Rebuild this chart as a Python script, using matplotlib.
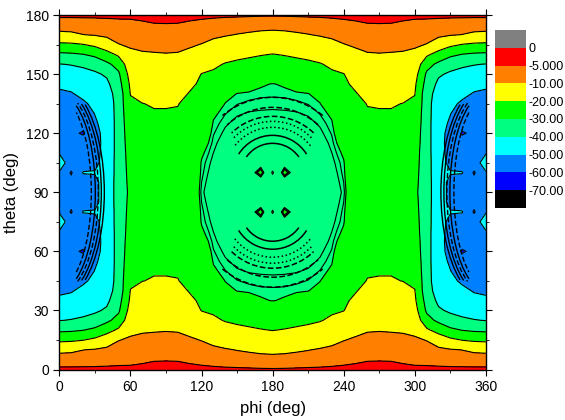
import numpy as np
import matplotlib
matplotlib.use('Agg')
import matplotlib.pyplot as plt
from matplotlib.patches import Arc

plt.rcParams['font.family'] = ['Liberation Sans', 'DejaVu Sans']

# quarter grid (theta 0..90 step 5, phi 0..180 step 10)
theta_q = np.arange(0, 91, 5)
phi_q = np.arange(0, 181, 10)

col_000 = [-4.23, -7.2, -11.5, -22, -31.7, -40.3, -44.2, -48.3, -51.5, -54, -55.5, -57, -55.6, -52.5, -50.5, -46, -50.5, -54, -56]
col_010 = [-4.26, -7.1, -11.2, -21.5, -31.3, -39.6, -44, -48, -50.5, -53, -55.5, -57, -58, -56.5, -55, -54, -61, -57, -58]
col_020 = [-4.24, -6.95, -10.1, -20.3, -30.2, -38.3, -43.2, -46.5, -48.5, -51, -54, -56, -61, -56, -55, -55, -49.5, -54, -55]
col_030 = [-4.29, -6.67, -9.44, -18, -28, -36.2, -41.5, -44, -46.5, -48.5, -49.8, -51, -52.5, -53, -52.5, -52, -49.5, -52, -52]
col_040 = [-4.35, -6.26, -8.6, -14, -23.6, -32, -38.7, -42, -44, -46, -46.5, -47, -47, -47, -47, -46.5, -46.5, -46, -46]
col_050 = [-4.35, -5.97, -7.98, -10.2, -18.3, -26.7, -31.4, -33.7, -36, -36, -36, -36, -36, -36, -36, -36, -36, -36, -36]
col_060 = [-4.4, -5.8, -7.5, -9.2, -11.35, -13.5, -16.3, -18.5, -19.8, -21, -22.5, -23.5, -24.5, -25.2, -26, -26.5, -27, -27.5, -28]
col_070 = [-4.3, -5.47, -7.15, -8.8, -10.57, -12.45, -14.3, -16.2, -18.1, -20.1, -20.6, -21.1, -21.7, -22.2, -22.8, -23.3, -23.9, -24.4, -25]
col_080 = [-3.5, -5.3, -6.96, -8.65, -10.37, -12.2, -14.1, -15.9, -17.8, -19.6, -20.4, -21.2, -21.9, -22.6, -23.1, -23.4, -23.6, -23.8, -24]
col_090 = [-3.0, -5.3, -6.85, -8.5, -10.23, -12.1, -14.0, -15.9, -17.7, -19.6, -20.4, -21.2, -21.9, -22.6, -23.1, -23.4, -23.6, -23.8, -24]
col_100 = [-3.5, -5.3, -6.96, -8.65, -10.37, -12.2, -14.1, -16.0, -17.9, -19.8, -20.5, -21.3, -22, -22.7, -23.2, -23.5, -23.7, -23.9, -24.2]
col_110 = [-4.16, -5.56, -7.4, -9.26, -11.43, -13.8, -16.2, -18.6, -20.45, -21.6, -22.7, -23.9, -25, -25.2, -25.3, -25.5, -25.7, -25.8, -26]
col_120 = [-4.27, -5.94, -7.97, -10.2, -13.3, -16.7, -20.2, -21.2, -22.4, -23.6, -24.8, -26, -27.6, -28.6, -29.6, -30.2, -30.4, -30.7, -31]
col_130 = [-4.33, -6.43, -8.81, -11.7, -15.2, -18.6, -21.15, -23.1, -25, -26.9, -29.6, -30.2, -30.6, -31, -31.4, -31.8, -32.2, -32.6, -33]
col_140 = [-4.43, -6.8, -9.47, -13.1, -16.9, -20.5, -23, -25.5, -28.8, -30.1, -30.65, -31.2, -31.7, -32.3, -32.8, -33.4, -33.9, -34.5, -35]
col_150 = [-4.46, -7.16, -10.2, -14, -18, -21.5, -24.4, -27.4, -30.1, -30.65, -31.25, -31.8, -32.4, -33, -33.6, -34.2, -34.8, -35.4, -36]
col_160 = [-4.52, -7.53, -10.8, -14.8, -18.8, -22.3, -25.5, -28.7, -30.3, -30.9, -31.5, -32, -32.6, -33.2, -33.7, -34.3, -34.9, -35.4, -36]
col_170 = [-4.61, -7.86, -11.4, -15.5, -19.6, -23, -26.3, -29.7, -30.5, -31, -31.6, -32.1, -32.7, -33.2, -33.8, -34.3, -28, -35.4, -36]
col_180 = [-4.67, -8, -11.7, -16, -20.2, -23.5, -26.7, -30.1, -30.5, -31.1, -31.6, -32.2, -32.7, -33.3, -33.8, -34.4, -41, -35.5, -36]

levels = [-100, -70, -60, -50, -40, -30, -20, -10, -5, 0, 10]
fill_colors = ['#000000', '#0000FF', '#0080FF', '#00FFFF', '#00FF80',
               '#00FF00', '#FFFF00', '#FF8000', '#FF0000', '#808080']
cb_labels = ['-70.00', '-60.00', '-50.00', '-40.00', '-30.00', '-20.00',
             '-10.00', '-5.000', '0']
x_ticks = [0, 60, 120, 180, 240, 300, 360]
y_ticks = [0, 30, 60, 90, 120, 150, 180]

# fringes along the central oval edge (extra contour levels)
edge_fringe_levels = [-31.4, -30.7]
# concentric fringe arcs around the central lobes (circles in pixel space)
ring_phi = 180
ring_theta_offset = 8.6
ring_radius_px = [32, 40, 48, 54, 59, 68, 78]
ring_half_span_px = [55, 58, 52, 46, 44, 42, 40]   # degrees from vertical
ring_styles = ['-', '-', ':', ':', '--', '--', '--']
# fringe arcs around the blue side lobes (half-width, half-height in px)
side_arc_a_px = [45, 42, 39, 36, 32]
side_arc_b_px = [107, 104, 101, 98, 94]
side_arc_span = [55, 58, 62, 62, 58]      # parametric degrees either side of horizontal
side_arc_styles = ['-', '-', '--', '-', '--']

cols = [col_000, col_010, col_020, col_030, col_040, col_050, col_060, col_070,
        col_080, col_090, col_100, col_110, col_120, col_130, col_140, col_150,
        col_160, col_170, col_180]
quarter = np.array(cols).T  # rows theta, cols phi
half = np.vstack([quarter, quarter[-2::-1]])
full = np.hstack([half, half[:, -2::-1]])
theta = np.concatenate([theta_q, 180 - theta_q[-2::-1]])
phi = np.concatenate([phi_q, 360 - phi_q[-2::-1]])

fig = plt.figure(figsize=(5.65, 4.2), dpi=100)
ax = fig.add_axes([0.105, 0.1202, 0.755, 0.844])
ax.contourf(phi, theta, full, levels=levels, colors=fill_colors)
ax.contour(phi, theta, full, levels=levels[1:-2], colors='k',
           linewidths=0.8, linestyles='solid')

mid = (phi >= 100) & (phi <= 260)
ax.contour(phi[mid], theta, full[:, mid], levels=edge_fringe_levels, colors='k',
           linewidths=0.8, linestyles='solid')

px_per_phi = 0.755 * 565 / 360
px_per_theta = 0.844 * 420 / 180


def param_to_data_angle(t_deg, w, h):
    t = np.deg2rad(t_deg)
    return np.rad2deg(np.arctan2(np.sin(t), np.cos(t) * w / h))


for r, hs, ls in zip(ring_radius_px, ring_half_span_px, ring_styles):
    w = 2 * r / px_per_phi
    h = 2 * r / px_per_theta
    a = param_to_data_angle(90 - hs, w, h)
    for tc, t1, t2 in ((90 + ring_theta_offset, a, 180 - a),
                       (90 - ring_theta_offset, 180 + a, 360 - a)):
        ax.add_patch(Arc((ring_phi, tc), w, h, theta1=t1, theta2=t2,
                         color='k', lw=1.1, ls=ls))

for ap, bp, sp, ls in zip(side_arc_a_px, side_arc_b_px, side_arc_span, side_arc_styles):
    w = 2 * ap / px_per_phi
    h = 2 * bp / px_per_theta
    a = param_to_data_angle(sp, w, h)
    ax.add_patch(Arc((0, 90), w, h, theta1=-a, theta2=a, color='k', lw=1.0, ls=ls))
    ax.add_patch(Arc((360, 90), w, h, theta1=180 - a, theta2=180 + a,
                     color='k', lw=1.0, ls=ls))

ax.set_xlim(0, 360)
ax.set_ylim(0, 180)
ax.set_xticks(x_ticks)
ax.set_yticks(y_ticks)
ax.set_xticks(np.arange(0, 361, 30), minor=True)
ax.set_yticks(np.arange(0, 181, 15), minor=True)
ax.tick_params(which='both', direction='out', top=True, right=True, labelsize=10)
ax.tick_params(which='major', length=4)
ax.tick_params(which='minor', length=2.5)
ax.set_xlabel('phi (deg)', fontsize=12, labelpad=5)
ax.set_ylabel('theta (deg)', fontsize=12, labelpad=5)
for s in ax.spines.values():
    s.set_linewidth(1.0)

cax = fig.add_axes([0.876, 0.5048, 0.0549, 0.4238])
n = len(fill_colors)
for i, c in enumerate(fill_colors):
    cax.bar(0.5, 1, bottom=i, width=1, color=c, edgecolor='none')
cax.set_xlim(0, 1)
cax.set_ylim(0, n)
cax.set_xticks([])
cax.yaxis.tick_right()
cax.set_yticks(np.arange(1, n))
cax.set_yticklabels(cb_labels)
cax.tick_params(axis='y', length=0, labelsize=9, pad=1.5)
for s in cax.spines.values():
    s.set_visible(False)

fig.savefig('out.png', dpi=100)
